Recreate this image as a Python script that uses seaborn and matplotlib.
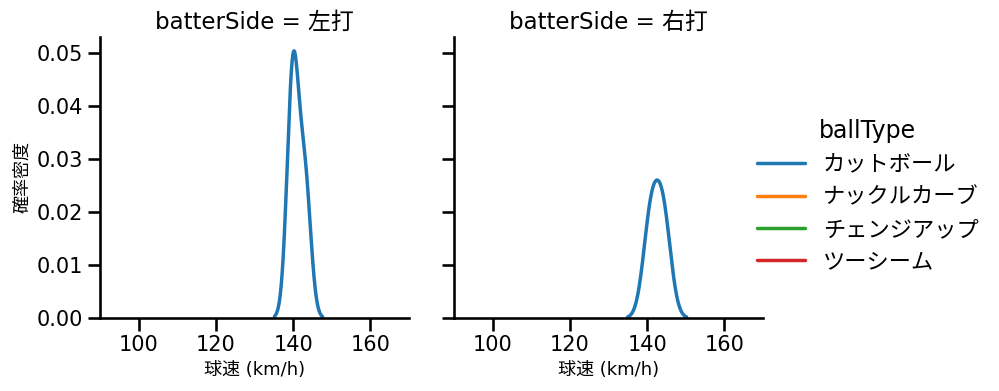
import warnings
import numpy as np
import pandas as pd
import matplotlib
matplotlib.use("Agg")
import matplotlib.pyplot as plt
import seaborn as sns

warnings.filterwarnings("ignore")

# ------------------------------------------------------------
# データ (球速 km/h)
# ------------------------------------------------------------
ball_types = ["カットボール", "ナックルカーブ", "チェンジアップ", "ツーシーム"]
sides = ["左打", "右打"]

# 左打
left_cutter = [139.65, 140.35, 143.15]
left_knuckle = [124.0]
left_change = [133.0]
left_twoseam = [145.0]

# 右打
right_cutter = [140.95, 144.2]
right_knuckle = [125.0]
right_change = [132.0]
right_twoseam = [146.0]

rows = []
for side, groups in [("左打", [left_cutter, left_knuckle, left_change, left_twoseam]),
                     ("右打", [right_cutter, right_knuckle, right_change, right_twoseam])]:
    for bt, vals in zip(ball_types, groups):
        for v in vals:
            rows.append({"batterSide": side, "ballType": bt, "speed": v})
df = pd.DataFrame(rows)

# ------------------------------------------------------------
# 描画
# ------------------------------------------------------------
sns.set_context("talk")
sns.set_style("ticks", {"axes.edgecolor": "black", "xtick.color": "black",
                        "ytick.color": "black", "text.color": "black",
                        "axes.labelcolor": "black"})
plt.rcParams["font.family"] = ["DejaVu Sans", "Noto Sans CJK JP"]

g = sns.displot(data=df, x="speed", hue="ballType", col="batterSide",
                kind="kde", hue_order=ball_types, col_order=sides,
                palette="tab10", height=4, aspect=1, linewidth=2.5)

g.figure.set_size_inches(9.99, 3.91)
g.set_titles("{col_var} = {col_name}", size=16.5)
g.set_axis_labels("球速 (km/h)", "確率密度", fontsize=13)
g.set(xlim=(90, 170), ylim=(0, 0.0531))
g.set(xticks=[100, 120, 140, 160], yticks=[0, 0.01, 0.02, 0.03, 0.04, 0.05])

positions = [[0.1001, 0.1867, 0.3093, 0.7187], [0.4545, 0.1867, 0.3093, 0.7187]]
for ax, pos in zip(g.axes.flat, positions):
    ax.set_position(pos)
    ax.tick_params(labelsize=15)

sns.move_legend(g, "center left", bbox_to_anchor=(0.738, 0.50), frameon=False,
                title="ballType", fontsize=16, title_fontsize=17,
                handlelength=2.15, labelspacing=0.55)

g.figure.savefig("out.png", dpi=100)
plt.close()
